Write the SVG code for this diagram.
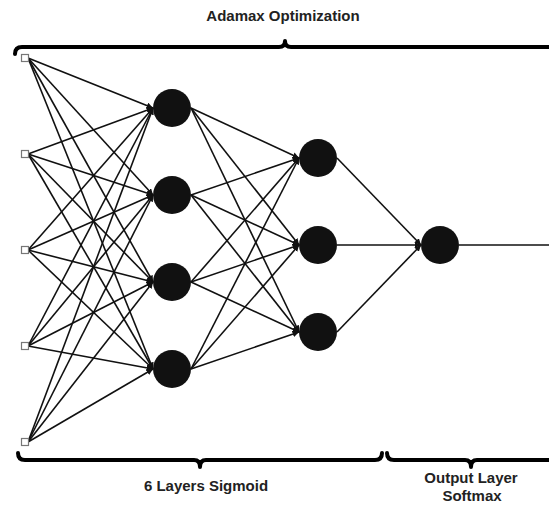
<svg xmlns="http://www.w3.org/2000/svg" width="549" height="506" viewBox="0 0 549 506">
<defs>
<style>
.lbl{font-family:"Liberation Sans",Arial,sans-serif;font-weight:bold;font-size:15px;fill:#222;text-anchor:middle}
.brace{fill:none;stroke:#000;stroke-width:4;stroke-linecap:round;stroke-linejoin:round}
.edge{stroke:#111;stroke-width:1.6;fill:none}
.in{fill:#fff;stroke:#777;stroke-width:1.2}
.neuron{fill:#111}
</style>
<marker id="ah" viewBox="0 0 10 10" refX="10" refY="5" markerWidth="4" markerHeight="4" orient="auto" markerUnits="strokeWidth">
<path d="M0,0 L10,5 L0,10 z" fill="#111"/>
</marker>
</defs>
<rect width="549" height="506" fill="#fff"/>

<g id="braces">
<path class="brace" d="M15,54 Q15,47 22,47 L279,47 Q285,47 285,41 Q285,47 291,47 L549,47"/>
<path class="brace" d="M18,453 Q18,460 25,460 L194,460 Q200,460 200,467 Q200,460 206,460 L375,460 Q382,460 382,453"/>
<path class="brace" d="M387,453 Q387,460 394,460 L465,460 Q471,460 471,467 Q471,460 477,460 L549,460"/>
</g>

<g id="connectors">
<!-- input to layer 1 -->
<g class="edge" marker-end="url(#ah)">
<path d="M28,58 L153,108"/><path d="M28,58 L153,195"/><path d="M28,58 L153,282"/><path d="M28,58 L153,369"/>
<path d="M28,154 L153,108"/><path d="M28,154 L153,195"/><path d="M28,154 L153,282"/><path d="M28,154 L153,369"/>
<path d="M28,250 L153,108"/><path d="M28,250 L153,195"/><path d="M28,250 L153,282"/><path d="M28,250 L153,369"/>
<path d="M28,346 L153,108"/><path d="M28,346 L153,195"/><path d="M28,346 L153,282"/><path d="M28,346 L153,369"/>
<path d="M28,442 L153,108"/><path d="M28,442 L153,195"/><path d="M28,442 L153,282"/><path d="M28,442 L153,369"/>
<!-- layer 1 to layer 2 -->
<path d="M191,108 L299,158"/><path d="M191,108 L299,245"/><path d="M191,108 L299,332"/>
<path d="M191,195 L299,158"/><path d="M191,195 L299,245"/><path d="M191,195 L299,332"/>
<path d="M191,282 L299,158"/><path d="M191,282 L299,245"/><path d="M191,282 L299,332"/>
<path d="M191,369 L299,158"/><path d="M191,369 L299,245"/><path d="M191,369 L299,332"/>
<!-- layer 2 to output -->
<path d="M337,158 L421,245"/><path d="M337,245 L421,245"/><path d="M337,332 L421,245"/>
</g>
<path class="edge" d="M459,245 L549,245"/>
</g>

<g id="inputs">
<rect id="in1" class="in" x="21.5" y="54.5" width="7" height="7"/>
<rect id="in2" class="in" x="21.5" y="150.5" width="7" height="7"/>
<rect id="in3" class="in" x="21.5" y="246.5" width="7" height="7"/>
<rect id="in4" class="in" x="21.5" y="342.5" width="7" height="7"/>
<rect id="in5" class="in" x="21.5" y="438.5" width="7" height="7"/>
</g>
<g id="layer1">
<circle id="h1a" class="neuron" cx="172" cy="108" r="19"/>
<circle id="h1b" class="neuron" cx="172" cy="195" r="19"/>
<circle id="h1c" class="neuron" cx="172" cy="282" r="19"/>
<circle id="h1d" class="neuron" cx="172" cy="369" r="19"/>
</g>
<g id="layer2">
<circle id="h2a" class="neuron" cx="318" cy="158" r="19"/>
<circle id="h2b" class="neuron" cx="318" cy="245" r="19"/>
<circle id="h2c" class="neuron" cx="318" cy="332" r="19"/>
</g>
<g id="output">
<circle id="out" class="neuron" cx="440" cy="245" r="19"/>
</g>

<g id="labels">
<text class="lbl" x="283" y="21">Adamax Optimization</text>
<text class="lbl" x="206" y="491">6 Layers Sigmoid</text>
<text class="lbl" x="471" y="483">Output Layer</text>
<text class="lbl" x="472" y="501">Softmax</text>
</g>
</svg>
